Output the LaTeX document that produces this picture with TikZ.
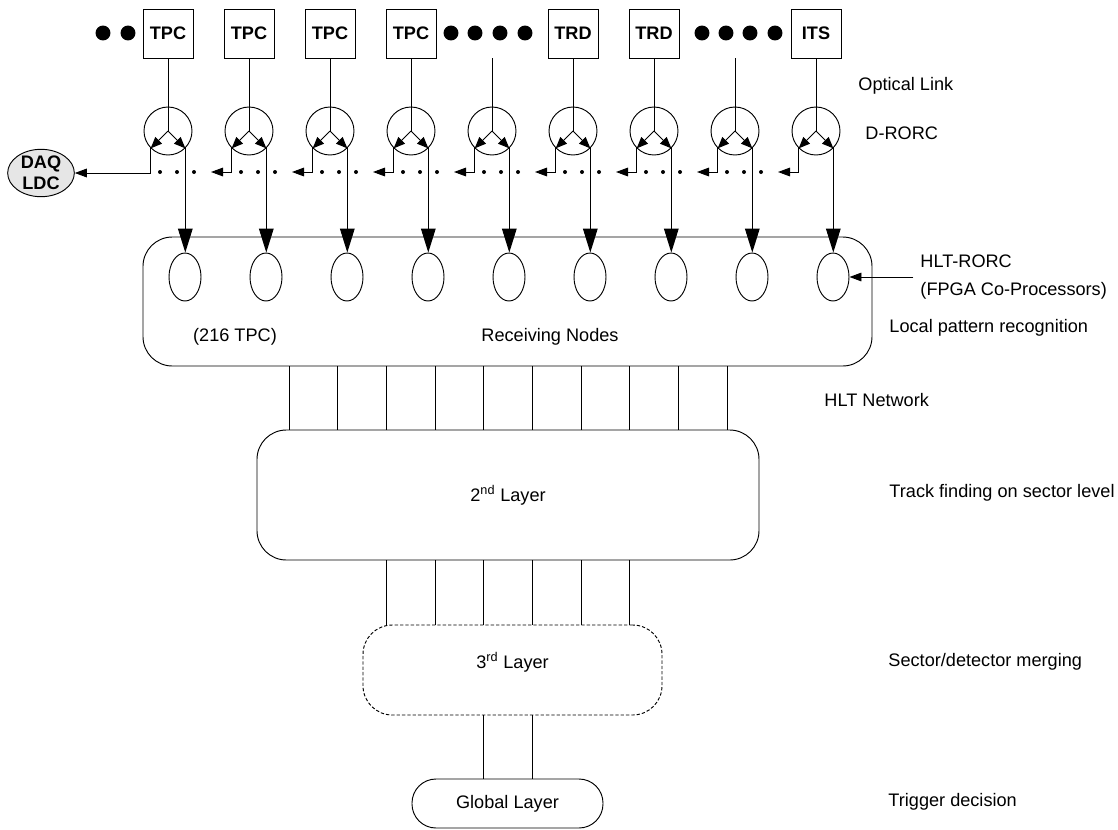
\documentclass[tikz,border=0pt]{standalone}
\usepackage{fontspec}
\setmainfont{Liberation Sans}
\usepackage{tikz}
\usetikzlibrary{shapes.geometric, arrows.meta, calc}
\definecolor{daqfill}{HTML}{E6E6E6}
\newcommand\diagfont{\fontsize{13.6}{16}\selectfont}

\begin{document}
\begin{tikzpicture}[x=0.75pt, y=-0.75pt, line width=0.7pt,
        det/.style={rectangle, draw, minimum width=37.5pt, minimum height=36.75pt, inner sep=0pt, font=\fontsize{13.6}{15}\selectfont\bfseries},
        rorc/.style={circle, draw, minimum size=36pt, inner sep=0pt},
        hrorc/.style={ellipse, draw, minimum width=24pt, minimum height=36pt, inner sep=0pt},
        layer/.style={rectangle, draw, rounded corners=22pt, inner sep=0pt, font=\diagfont},
        lbl/.style={anchor=west, inner sep=0pt, font=\diagfont},
        feed/.style={-{Triangle[length=18pt, width=11pt]}},
        split/.style={-{Triangle[length=8.5pt, width=7pt]}},
        back/.style={-{Triangle[length=9pt, width=6.5pt]}}]
    \useasboundingbox (0,0) rectangle (1118,829);

    % detectors
    \node[det] (d1) at (168,33.5) {TPC};
    \node[det] (d2) at (249,33.5) {TPC};
    \node[det] (d3) at (330,33.5) {TPC};
    \node[det] (d4) at (411,33.5) {TPC};
    \coordinate (d5) at (492,58);
    \node[det] (d6) at (573,33.5) {TRD};
    \node[det] (d7) at (654,33.5) {TRD};
    \coordinate (d8) at (735,58);
    \node[det] (d9) at (816,33.5) {ITS};
    \foreach \p in {103,128,451,475,500,525,702,726,750,775}
        \fill (\p,33) circle (5.6pt);

    \node[ellipse, draw, fill=daqfill, minimum width=50pt, minimum height=30pt, inner sep=0pt, align=center,
        font=\fontsize{13.6}{15.5}\selectfont\bfseries] (daq) at (41,173) {DAQ\\LDC};

    \node[layer, minimum width=546.75pt, minimum height=96.75pt] (recv) at (507.5,301.5) {};
    \node[font=\diagfont] (tpcnote) at (235,337) {(216 TPC)};
    \node[font=\diagfont] (recvtxt) at (550,337) {Receiving Nodes};

    % D-RORC and HLT-RORC per link
    \foreach \i in {1,...,9} {
        \pgfmathsetmacro\x{168+81*(\i-1)}
        \node[rorc] (r\i) at (\x,131) {};
        \node[hrorc] (h\i) at (\x+17,277) {};
        \coordinate (t\i) at (\x-38,172);
    }
    \foreach \i in {1,...,9} {
        \draw (d\i) -- (r\i.center);
        \draw[split] (r\i.center) -- (r\i.-135);
        \draw[split] (r\i.center) -- (r\i.-45);
        \draw[feed] (r\i.-45) -- (r\i.-45 |- h\i.north);
    }
    \draw[back] (r1.-135) |- (daq);
    \foreach \i in {2,...,9}
        \draw[back] (r\i.-135) |- (t\i);
    \foreach \i in {1,...,8} {
        \pgfmathsetmacro\x{168+81*(\i-1)}
        \fill (\x-8,172) circle (1.5pt) (\x+9,172) circle (1.5pt) (\x+26,172) circle (1.5pt);
    }

    % layers
    \node[layer, minimum width=376.5pt, minimum height=97.5pt] (l2) at (508,495) {2\textsuperscript{nd} Layer};
    \node[layer, dashed, dash pattern=on 2.5pt off 1.5pt, minimum width=224.25pt, minimum height=67.5pt,
        text height=10.5pt, text depth=13pt] (l3) at (512.5,670) {3\textsuperscript{rd} Layer};
    \node[layer, rounded corners=18pt, minimum width=143.25pt, minimum height=36.75pt] (glob) at (507.5,803.5) {Global Layer};

    \foreach \k in {0,...,9} {
        \pgfmathsetmacro\nx{289+48.67*\k}
        \draw (\nx,0 |- recv.south) -- (\nx,0 |- l2.north);
    }
    \foreach \k in {2,...,7} {
        \pgfmathsetmacro\nx{289+48.67*\k}
        \draw (\nx,0 |- l2.south) -- (\nx,0 |- l3.north);
    }
    \foreach \k in {4,5} {
        \pgfmathsetmacro\nx{289+48.67*\k}
        \draw (\nx,0 |- l3.south) -- (\nx,0 |- glob.north);
    }

    % labels
    \node[lbl] (optlink) at (858,86) {Optical Link};
    \node[lbl] (drorc) at (865,133) {D-RORC};
    \node[lbl, align=left, font=\fontsize{13.6}{21}\selectfont] (hrorctxt) at (920,277) {HLT-RORC\\(FPGA Co-Processors)};
    \draw[back] ([xshift=-5pt]hrorctxt.west) -- (h9.east);
    \node[lbl] (local) at (889,328) {Local pattern recognition};
    \node[lbl] (net) at (824,400) {HLT Network};
    \node[lbl] (track) at (889,493) {Track finding on sector level};
    \node[lbl] (merge) at (888,662) {Sector/detector merging};
    \node[lbl] (trig) at (888,802) {Trigger decision};
\end{tikzpicture}
\end{document}
